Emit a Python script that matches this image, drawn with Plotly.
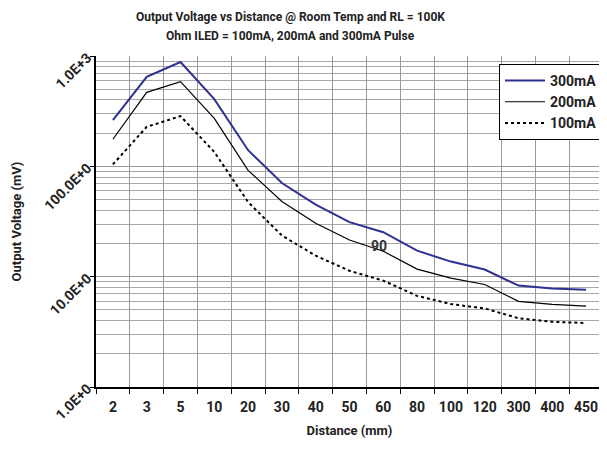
import plotly.graph_objects as go

distance = ["2", "3", "5", "10", "20", "30", "40", "50", "60", "80", "100", "120", "300", "400", "450"]
ma300 = [262, 648, 881, 406, 140, 70.5, 44.9, 31.2, 25.3, 17.2, 13.7, 11.6, 8.3, 7.8, 7.6]
ma200 = [176, 468, 585, 272, 92, 48, 30.5, 21.5, 17.0, 11.7, 9.7, 8.5, 5.97, 5.6, 5.4]
ma100 = [104, 228, 285, 135, 47.4, 23.6, 15.5, 11.3, 9.2, 6.7, 5.65, 5.15, 4.2, 3.9, 3.8]
ytick_vals = [1, 10, 100, 1000]
ytick_text = ["1.0E+0", "10.0E+0", "100.0E+0", "1.0E+3"]
title_lines = ["Output Voltage vs Distance @ Room Temp and RL = 100K",
               "Ohm ILED = 100mA, 200mA and 300mA Pulse"]

FONT = "Roboto, DejaVu Sans, sans-serif"
TXT = "#222222"

fig = go.Figure()
fig.add_trace(go.Scatter(x=distance, y=ma300, mode="lines", name="300mA",
                         line=dict(color="#2E3192", width=2)))
fig.add_trace(go.Scatter(x=distance, y=ma200, mode="lines", name="200mA",
                         line=dict(color="#000000", width=1.2)))
fig.add_trace(go.Scatter(x=distance, y=ma100, mode="lines", name="100mA",
                         line=dict(color="#000000", width=2, dash="dot")))

fig.add_annotation(x=distance.index("60"), y=1.28, yref="y", text="90", showarrow=False,
                   xshift=-4, font=dict(family=FONT, size=14, color="#333333", weight="bold"))

# two-line title with the reference's wider line spacing
for line, ty in zip(title_lines, [1.118, 1.060]):
    fig.add_annotation(xref="paper", yref="paper", x=0.383, y=ty, text=line,
                       showarrow=False, xanchor="center", yanchor="middle",
                       font=dict(family=FONT, size=12, color=TXT, weight="bold"))

fig.update_layout(
    width=599, height=441,
    margin=dict(l=88, r=4, t=48, b=62),
    paper_bgcolor="white", plot_bgcolor="white",
    font=dict(family=FONT, color=TXT),
    legend=dict(x=1.0, xanchor="right", y=0.976, yanchor="top",
                bgcolor="white", bordercolor="#000000", borderwidth=1,
                font=dict(family=FONT, size=14, color=TXT, weight="bold"),
                itemwidth=40, tracegroupgap=0),
    showlegend=True,
)
fig.update_xaxes(type="category", categoryorder="array", categoryarray=distance,
                 range=[-0.5, len(distance) - 0.5], automargin=False,
                 tickson="boundaries", ticks="outside", ticklen=5, ticklabelstandoff=6,
                 tickangle=0, tickcolor="#000", showline=True, linecolor="#000", linewidth=1.5,
                 showgrid=True, gridcolor="#9a9a9a", gridwidth=1,
                 tickfont=dict(family=FONT, size=14, color=TXT, weight="bold"),
                 title=dict(text="Distance (mm)", standoff=12,
                            font=dict(family=FONT, size=13, color=TXT, weight="bold")))
fig.update_yaxes(type="log", range=[0, 3], tickvals=ytick_vals, ticktext=ytick_text,
                 automargin=False,
                 tickangle=-45, ticks="outside", ticklen=4, tickcolor="#000",
                 showline=True, linecolor="#000", linewidth=1.5,
                 showgrid=True, gridcolor="#9a9a9a", gridwidth=1,
                 minor=dict(showgrid=True, gridcolor="#a8a8a8", gridwidth=1,
                            tickvals=[m * d for d in (1, 10, 100) for m in range(2, 10)]),
                 tickfont=dict(family=FONT, size=14, color=TXT, weight="bold"),
                 title=dict(text="Output Voltage (mV)", standoff=16,
                            font=dict(family=FONT, size=13, color=TXT, weight="bold")))

fig.write_html("out.html")
